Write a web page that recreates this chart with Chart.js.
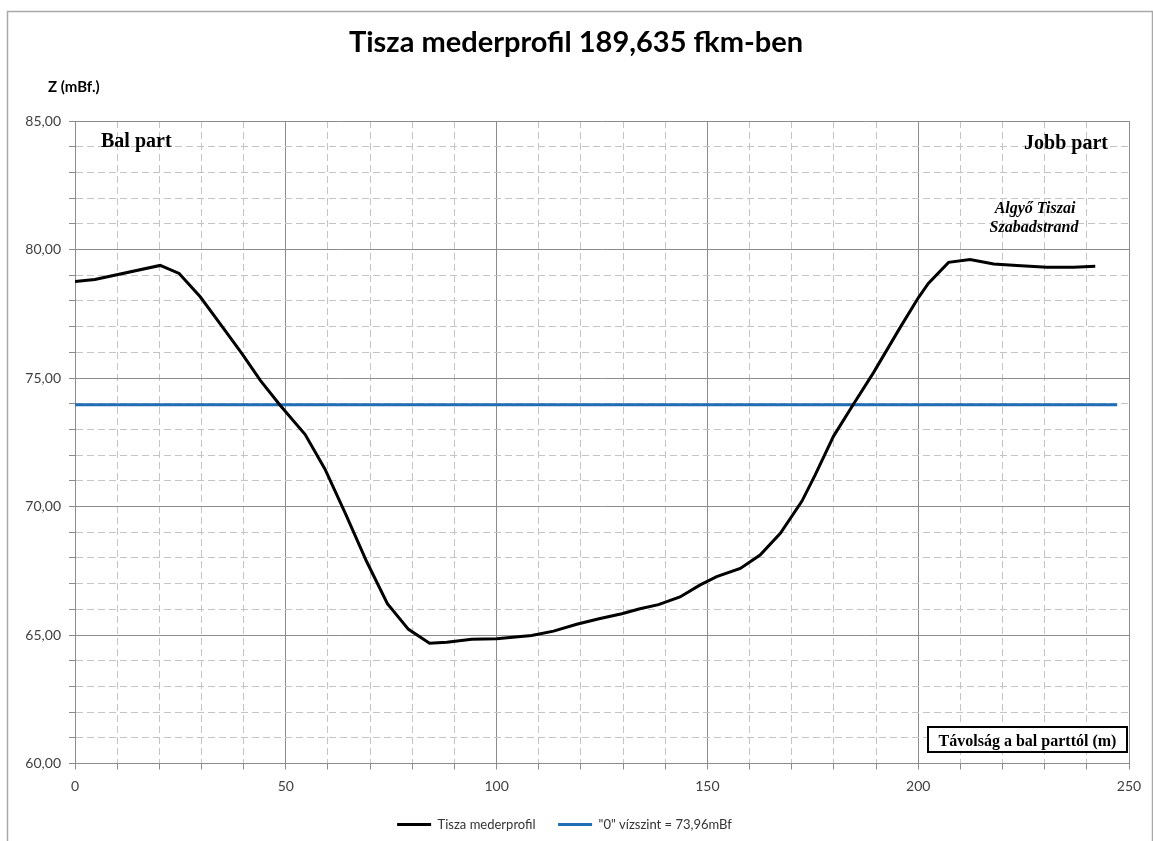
<!DOCTYPE html>
<html>
<head>
<meta charset="utf-8">
<title>Tisza mederprofil</title>
<script src="https://cdn.jsdelivr.net/npm/chart.js@4.4.0/dist/chart.umd.min.js"></script>
<style>
  html, body { margin: 0; padding: 0; background: #fff; }
  #wrap { width: 1153px; height: 841px; position: relative; }
</style>
</head>
<body>
<div id="wrap"><canvas id="profileChart"></canvas></div>
<script>
// Distance from left bank (m) and bed level (mBf.)
const distance = [0, 4.7, 20.2, 24.7, 29.7, 34.7, 39.6, 44.0, 48.6, 54.6, 59.3, 64.2, 69.2, 74.1, 79.1, 84.1,
  88.2, 94.1, 100, 108.3, 113.5, 119, 124.3, 129.7, 134, 138.4, 143.5, 148.3, 152.2, 157.8, 162.5,
  167.3, 172.4, 175.6, 179.9, 184.6, 189.4, 195.7, 200.1, 202.4, 207.2, 212.3, 217.9, 223.4, 230.5, 236.9, 242];
const bedLevel = [78.75, 78.83, 79.38, 79.07, 78.16, 77.05, 75.95, 74.9, 73.95, 72.8, 71.45, 69.7, 67.85, 66.22, 65.22, 64.68,
  64.72, 64.83, 64.85, 64.98, 65.15, 65.42, 65.63, 65.83, 66.02, 66.18, 66.48, 66.95, 67.27, 67.59, 68.11,
  68.96, 70.2, 71.24, 72.73, 73.97, 75.21, 76.96, 78.14, 78.68, 79.5, 79.61, 79.44, 79.38, 79.31, 79.31, 79.35];

// "0" water level line
const zeroLevel = 73.96;
const zeroLineX = [0, 247.2];

// tick labels
const xTickLabels = [0, 50, 100, 150, 200, 250];
const yTickLabels = [60, 65, 70, 75, 80, 85];

const majorGrid = "#8c8c8c";
const minorGrid = "#c4c4c4";

// Frame, title and text notes
const notes = {
  id: "notes",
  beforeDraw(chart) {
    const c = chart.ctx;
    c.save();
    c.strokeStyle = "#a8a8a8";
    c.lineWidth = 1.5;
    c.strokeRect(7.5, 11.5, 1145, 900);
    c.restore();
  },
  afterDraw(chart) {
    const c = chart.ctx;
    c.save();
    c.fillStyle = "#000";
    c.textBaseline = "alphabetic";

    c.textAlign = "center";
    c.font = "bold 29px Lato";
    c.fillText("Tisza mederprofil 189,635 fkm-ben", 576, 52);

    c.textAlign = "left";
    c.font = "bold 15px Lato";
    c.fillText("Z (mBf.)", 48, 92);

    c.font = "bold 20px 'Liberation Serif'";
    c.fillText("Bal part", 101, 147);
    c.textAlign = "right";
    c.fillText("Jobb part", 1108, 149);

    c.textAlign = "center";
    c.font = "italic bold 16px 'Liberation Serif'";
    c.fillText("Algyő Tiszai", 1035, 213);
    c.fillText("Szabadstrand", 1034, 232);

    // axis title box
    c.fillStyle = "#fff";
    c.fillRect(928, 727, 199, 25);
    c.strokeStyle = "#000";
    c.lineWidth = 2;
    c.strokeRect(928, 727, 199, 25);
    c.fillStyle = "#000";
    c.font = "bold 16px 'Liberation Serif'";
    c.fillText("Távolság a bal parttól (m)", 1027.5, 746);
    c.restore();
  }
};

const ctxProfile = document.getElementById("profileChart");

new Chart(ctxProfile, {
  type: "scatter",
  data: {
    datasets: [
      {
        label: "Tisza mederprofil",
        data: distance.map((d, i) => ({ x: d, y: bedLevel[i] })),
        showLine: true,
        borderColor: "#000",
        backgroundColor: "#000",
        borderWidth: 3,
        pointRadius: 0,
        tension: 0
      },
      {
        label: "\"0\" vízszint = 73,96mBf",
        data: zeroLineX.map(d => ({ x: d, y: zeroLevel })),
        showLine: true,
        borderColor: "#1f6db4",
        backgroundColor: "#1f6db4",
        borderWidth: 3,
        pointRadius: 0
      }
    ]
  },
  options: {
    responsive: true,
    maintainAspectRatio: false,
    animation: false,
    layout: { padding: { left: 0, right: 24, top: 121, bottom: 0 } },
    scales: {
      x: {
        type: "linear",
        min: 0,
        max: 250,
        afterFit: s => { s.height = 32; },
        ticks: {
          stepSize: 10,
          autoSkip: false,
          maxRotation: 0,
          padding: 9,
          color: "#404040",
          font: { family: "Lato", size: 14 },
          callback: v => xTickLabels.includes(v) ? String(v) : ""
        },
        grid: {
          color: ctx => ctx.tick && ctx.tick.value % 50 !== 0 ? minorGrid : majorGrid,
          tickColor: majorGrid,
          tickLength: 6,
          lineWidth: 1
        },
        border: {
          color: majorGrid,
          dash: ctx => ctx.tick && ctx.tick.value % 50 !== 0 ? [7, 4] : []
        }
      },
      y: {
        min: 60,
        max: 85,
        afterFit: s => { s.width = 75; },
        ticks: {
          stepSize: 1,
          autoSkip: false,
          padding: 8,
          color: "#404040",
          font: { family: "Lato", size: 14 },
          callback: v => yTickLabels.includes(v) ? v.toFixed(2).replace(".", ",") : ""
        },
        grid: {
          color: ctx => ctx.tick && ctx.tick.value % 5 !== 0 ? minorGrid : majorGrid,
          tickColor: majorGrid,
          tickLength: 6,
          lineWidth: 1
        },
        border: {
          color: majorGrid,
          dash: ctx => ctx.tick && ctx.tick.value % 5 !== 0 ? [7, 4] : []
        }
      }
    },
    plugins: {
      title: { display: false },
      tooltip: { enabled: false },
      legend: {
        position: "bottom",
        labels: {
          usePointStyle: true,
          pointStyle: "line",
          pointStyleWidth: 34,
          padding: 22.5,
          color: "#333",
          font: { family: "Lato", size: 13 }
        }
      }
    }
  },
  plugins: [notes]
});
</script>
</body>
</html>
